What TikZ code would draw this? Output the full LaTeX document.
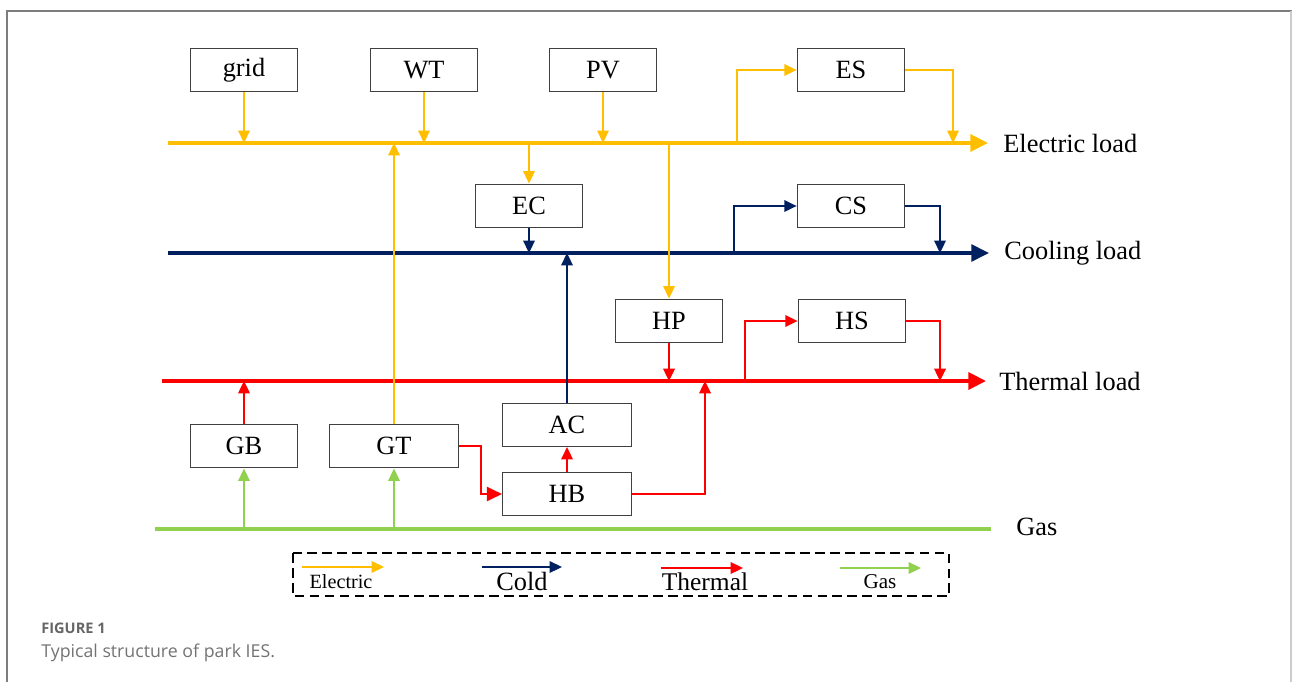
\documentclass[tikz,border=0pt]{standalone}
\usepackage{fontspec}
\setmainfont{Liberation Serif}
\newfontfamily\capfont{Open Sans}
\usetikzlibrary{arrows.meta}
\definecolor{elec}{RGB}{255,190,0}
\definecolor{cold}{RGB}{0,32,96}
\definecolor{heat}{RGB}{255,0,0}
\definecolor{gasc}{RGB}{146,208,80}
\definecolor{framec}{RGB}{125,125,125}

\begin{document}
\begin{tikzpicture}[x=0.02cm,y=-0.02cm,
  unit/.style={draw=black!75,line width=0.6pt,fill=white,minimum width=61.3pt,minimum height=25pt,inner sep=0pt,font=\fontsize{15}{17}\selectfont},
  wideunit/.style={unit,minimum width=73.5pt},
  bus/.style={line width=2.2pt,-{Triangle[length=10pt,width=9.5pt]}},
  link/.style={line width=1pt,-{Triangle[length=7pt,width=6.5pt]}},
  busname/.style={anchor=west,inner sep=0pt,font=\fontsize{15}{17}\selectfont},
  keyname/.style={inner sep=0pt}]

\useasboundingbox (0,0) rectangle (1293,682);
\draw[framec, line width=1.1pt] (7,682) -- (7,11) -- (1292,11);
\draw[black!20, line width=1pt] (1291,11) -- (1291,682);

\coordinate (eL) at (168,143);
\coordinate (eR) at (988,143);
\coordinate (cL) at (168,253);
\coordinate (cR) at (989,253);
\coordinate (tL) at (162,381);
\coordinate (tR) at (986,381);
\coordinate (gL) at (155,529);
\coordinate (gR) at (991,529);

\node[unit] (grid) at (244,70) {grid};
\node[unit] (WT) at (424,70) {WT};
\node[unit] (PV) at (603,70) {PV};
\node[unit] (ES) at (851,70) {ES};
\node[unit] (EC) at (529,206) {EC};
\node[unit] (CS) at (851,206) {CS};
\node[unit] (HP) at (669,321) {HP};
\node[unit] (HS) at (852,321) {HS};
\node[wideunit,minimum height=24.5pt] (AC) at (567,425) {AC};
\node[wideunit,minimum height=24.5pt] (HB) at (567,494) {HB};
\node[unit] (GB) at (244,446) {GB};
\node[wideunit] (GT) at (394,446) {GT};

\draw[elec, bus] (eL) -- (eR);
\draw[cold, bus, line width=1.9pt] (cL) -- (cR);
\draw[heat, bus] (tL) -- (tR);
\draw[gasc, line width=2.2pt] (gL) -- (gR);

\node[busname] (eload) at (1003,143) {Electric load};
\node[busname] (cload) at (1004,253) {Cooling load};
\node[busname] (tload) at (999,381) {Thermal load};
\node[busname] (gas) at (1016,527) {Gas};

\coordinate (esin) at (737,143);
\coordinate (esout) at (953,143);
\coordinate (ecin) at (529,143);
\coordinate (hpin) at (669,143);
\coordinate (csin) at (734,253);
\coordinate (csout) at (940,253);
\coordinate (hsin) at (745,381);
\coordinate (hsout) at (940,381);
\coordinate (hbout) at (705,381);

\draw[elec, link] (grid) -- (grid |- eL);
\draw[elec, link] (WT) -- (WT |- eL);
\draw[elec, link] (PV) -- (PV |- eL);
\draw[elec, link] (esin) |- (ES);
\draw[elec, link] (ES) -| (esout);
\draw[elec, link] (GT) -- (GT |- eL);
\draw[elec, link] (ecin) -- (EC);
\draw[elec, link] (hpin) -- (HP);

\draw[cold, link] (EC) -- (EC |- cL);
\draw[cold, link] (csin) |- (CS);
\draw[cold, link] (CS) -| (csout);
\draw[cold, link] (AC) -- (AC |- cL);

\draw[heat, link, line width=1.2pt] (HP) -- (HP |- tL);
\draw[heat, link, line width=1.2pt] (hsin) |- (HS);
\draw[heat, link, line width=1.2pt] (HS) -| (hsout);
\draw[heat, link, line width=1.2pt] (HB) -| (hbout);
\draw[heat, link, line width=1.2pt] (GB) -- (GB |- tL);
\draw[heat, link, line width=1.2pt] (HB) -- (AC);
\draw[heat, line width=1.2pt, -{Triangle[length=8.5pt,width=8pt]}] (GT.east) -- ++(22,0) |- (HB.west);

\draw[gasc, link] (GB |- gL) -- (GB);
\draw[gasc, link] (GT |- gL) -- (GT);

\draw[line width=1.1pt, dash pattern=on 5.5pt off 3pt] (293,553) rectangle (949,596);
\draw[elec, line width=1pt, -{Triangle[length=7pt,width=6.5pt]}] (302,567) -- (384,567);
\draw[cold, line width=1pt, -{Triangle[length=7pt,width=6.5pt]}] (482,567) -- (562,567);
\draw[heat, line width=1pt, -{Triangle[length=7pt,width=6.5pt]}] (661,568) -- (743,568);
\draw[gasc, line width=1pt, -{Triangle[length=7pt,width=6.5pt]}] (840,568) -- (921,568);
\node[keyname, font=\fontsize{11.5}{13}\selectfont] (kelec) at (341,582) {Electric};
\node[keyname, font=\fontsize{15}{17}\selectfont] (kcold) at (522,581) {Cold};
\node[keyname, font=\fontsize{14.5}{17}\selectfont] (kheat) at (705,582) {Thermal};
\node[keyname, font=\fontsize{12}{14}\selectfont] (kgas) at (880,582) {Gas};

\node[anchor=west, inner sep=0pt, text=black!60, font=\capfont\bfseries\fontsize{8.3}{10}\selectfont] (fignum) at (41,628) {FIGURE 1};
\node[anchor=west, inner sep=0pt, text=black!55, font=\capfont\fontsize{10.1}{12}\selectfont] (figcap) at (41,653) {Typical structure of park IES.};

\end{tikzpicture}
\end{document}
